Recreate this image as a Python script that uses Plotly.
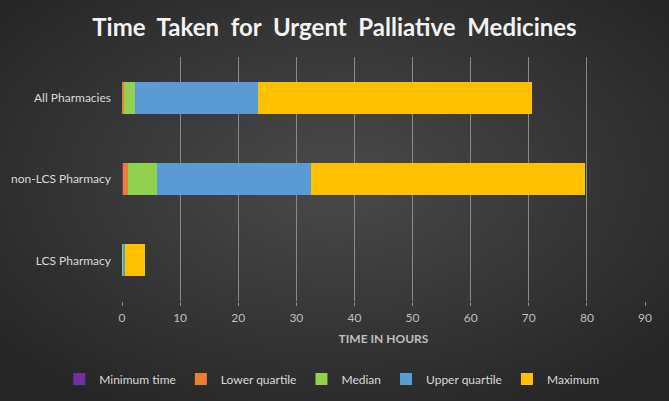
import base64
import plotly.graph_objects as go

categories = ["LCS Pharmacy", "non-LCS Pharmacy", "All Pharmacies"]
series_names = ["Minimum time", "Lower quartile", "Median", "Upper quartile", "Maximum"]
minimum_time = [0.05, 0.1, 0.1]
lower_quartile = [0.1, 0.9, 0.2]
median = [0.15, 5.0, 1.9]
upper_quartile = [0.2, 26.5, 21.2]
maximum = [3.4, 47.2, 47.2]
x_ticks = [0, 10, 20, 30, 40, 50, 60, 70, 80, 90]

colors = ["#7030a0", "#ed7d31", "#92d050", "#5b9bd5", "#ffc000"]
values = [minimum_time, lower_quartile, median, upper_quartile, maximum]

W, H = 669, 401
L, R, T, B = 122, 24, 57, 100
pw, ph = W - L - R, H - T - B

svg = f'''<svg xmlns="http://www.w3.org/2000/svg" width="{W}" height="{H}" preserveAspectRatio="none">
<defs><radialGradient id="g" cx="50%" cy="45%" r="65%">
<stop offset="0%" stop-color="#4a4a4a"/><stop offset="100%" stop-color="#262626"/>
</radialGradient></defs><rect width="{W}" height="{H}" fill="url(#g)"/></svg>'''
bg = "data:image/svg+xml;base64," + base64.b64encode(svg.encode()).decode()

fig = go.Figure()
for name, vals, c in zip(series_names, values, colors):
    fig.add_trace(go.Bar(
        y=categories, x=vals, name=name, orientation="h",
        marker=dict(color=c, line=dict(width=0)),
    ))

FONT = "Lato"
fig.update_layout(
    width=W, height=H,
    barmode="stack", bargap=0.61,
    margin=dict(l=L, r=R, t=T, b=B, autoexpand=False),
    paper_bgcolor="#333333", plot_bgcolor="rgba(0,0,0,0)",
    font=dict(family=FONT, color="#d9d9d9", size=12),
    title=dict(text="<b>Time  Taken  for  Urgent  Palliative  Medicines</b>",
               x=0.5, xref="container", xanchor="center", y=0.932, yanchor="middle",
               font=dict(size=24, color="#f2f2f2", family=FONT)),
    images=[dict(source=bg, xref="paper", yref="paper",
                 x=-L / pw, y=1 + T / ph, sizex=W / pw, sizey=H / ph,
                 xanchor="left", yanchor="top", sizing="stretch", layer="below")],
    xaxis=dict(range=[0, 90], tickvals=x_ticks, showgrid=True, gridcolor="#8a8a8a",
               gridwidth=1, zeroline=False, showline=False, automargin=False,
               ticks="outside", ticklen=4, tickcolor="#8a8a8a",
               ticklabelstandoff=2,
               tickfont=dict(size=12, color="#bfbfbf"),
               title=dict(text="<b>TIME IN HOURS</b>", font=dict(size=12, color="#bfbfbf"),
                          standoff=10)),
    yaxis=dict(showgrid=False, zeroline=False, showline=False, ticks="",
               ticklabelstandoff=10, automargin=False,
               tickfont=dict(size=12, color="#d9d9d9")),
    legend=dict(orientation="h", xref="paper", x=-0.12, xanchor="left",
                y=-0.26, yanchor="top",
                font=dict(size=12, color="#d9d9d9"), traceorder="normal",
                itemwidth=30, bgcolor="rgba(0,0,0,0)"),
)

fig.write_html("out.html", config={"displayModeBar": False},
               post_script="document.body.style.margin='0';")
